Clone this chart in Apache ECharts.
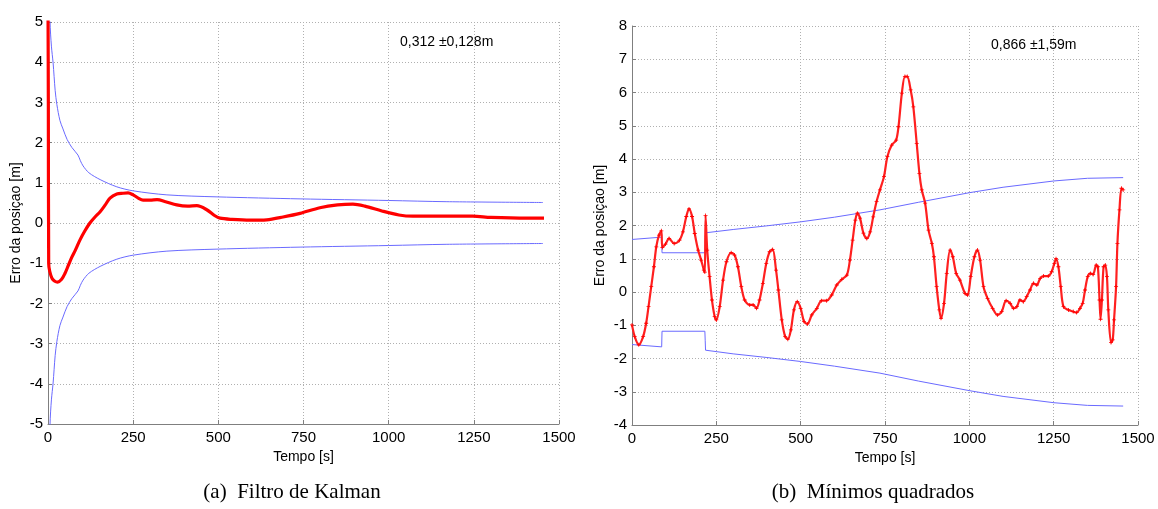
<!DOCTYPE html>
<html>
<head>
<meta charset="utf-8">
<script src="https://cdn.jsdelivr.net/npm/echarts@6/dist/echarts.min.js"></script>
<style>html,body{margin:0;padding:0;background:#fff}#c{width:1158px;height:509px}</style>
</head>
<body>
<div id="c"></div>
<script>
// ---- Left panel: Kalman filter ----
const kalTime = [0, 1, 2, 5, 12, 20, 28, 40, 50, 60, 70, 80, 94, 108, 123, 138, 153, 168, 182, 202, 220, 235, 250, 265, 279, 300, 320, 345, 378, 410, 437, 466, 490, 505, 540, 593, 642, 690, 740, 798, 850, 895, 930, 980, 1030, 1071, 1150, 1247, 1300, 1406, 1456];
const kalErr  = [5.5, 3, -1.0, -1.2, -1.38, -1.45, -1.47, -1.4, -1.25, -1.05, -0.85, -0.68, -0.42, -0.2, 0.0, 0.15, 0.28, 0.45, 0.62, 0.72, 0.74, 0.75, 0.7, 0.62, 0.57, 0.57, 0.58, 0.53, 0.45, 0.42, 0.43, 0.33, 0.18, 0.12, 0.09, 0.07, 0.08, 0.15, 0.24, 0.38, 0.45, 0.47, 0.42, 0.3, 0.2, 0.17, 0.17, 0.17, 0.14, 0.12, 0.12];
const kalSigTime = [3, 6, 10, 15, 21, 26, 35, 44, 56, 70, 88, 95, 103, 120, 153, 202, 250, 349, 496, 740, 1000, 1171, 1453];
const kalSigUp   = [7, 5.0, 4.4, 3.98, 3.3, 2.95, 2.55, 2.34, 2.08, 1.88, 1.69, 1.55, 1.42, 1.25, 1.08, 0.9, 0.8, 0.7, 0.65, 0.6, 0.56, 0.53, 0.51];
const kalSigLow  = [-7, -5.0, -4.4, -3.98, -3.3, -2.95, -2.55, -2.34, -2.08, -1.88, -1.69, -1.55, -1.42, -1.25, -1.08, -0.9, -0.8, -0.7, -0.65, -0.6, -0.56, -0.53, -0.51];

// ---- Right panel: least squares ----
const lsTime = [0, 8, 20, 33, 42, 49, 57, 65, 72, 80, 87, 90, 99, 110, 125, 141, 151, 161, 169, 178, 186, 196, 205, 213, 216, 218, 223, 230, 237, 245, 250, 260, 270, 280, 294, 304, 314, 324, 334, 349, 359, 369, 378, 388, 398, 408, 417, 427, 434, 444, 454, 462, 471, 480, 490, 500, 510, 520, 533, 548, 562, 577, 592, 607, 622, 637, 646, 654, 662, 668, 676, 686, 696, 706, 715, 725, 735, 747, 757, 770, 783, 790, 800, 809, 816, 826, 834, 844, 852, 859, 869, 879, 889, 895, 903, 911, 916, 925, 933, 943, 951, 961, 972, 987, 995, 1004, 1015, 1024, 1032, 1042, 1054, 1069, 1083, 1096, 1109, 1121, 1131, 1141, 1150, 1160, 1170, 1180, 1190, 1200, 1210, 1220, 1234, 1244, 1252, 1257, 1264, 1271, 1279, 1294, 1308, 1318, 1328, 1336, 1343, 1351, 1359, 1367, 1376, 1381, 1386, 1389, 1393, 1398, 1403, 1408, 1412, 1420, 1425, 1429, 1435, 1439, 1445, 1451, 1456];
const lsErr  = [-0.99, -1.34, -1.59, -1.34, -0.94, -0.44, 0.16, 0.76, 1.36, 1.71, 1.84, 1.34, 1.44, 1.61, 1.46, 1.56, 1.81, 2.27, 2.5, 2.27, 1.76, 1.26, 0.96, 0.66, 0.6, 2.3, 1.26, 0.46, -0.24, -0.74, -0.84, -0.44, 0.36, 0.91, 1.18, 1.11, 0.76, 0.16, -0.24, -0.39, -0.39, -0.49, -0.24, 0.26, 0.86, 1.21, 1.28, 0.66, 0.06, -0.84, -1.34, -1.42, -1.14, -0.54, -0.29, -0.49, -0.89, -0.96, -0.69, -0.49, -0.26, -0.26, -0.09, 0.21, 0.38, 0.51, 0.96, 1.56, 2.16, 2.37, 2.22, 1.77, 1.61, 1.81, 2.26, 2.72, 3.07, 3.47, 4.07, 4.42, 4.57, 4.97, 5.98, 6.48, 6.48, 6.08, 5.57, 4.47, 3.57, 3.07, 2.67, 1.86, 1.46, 1.06, 0.16, -0.54, -0.79, -0.34, 0.56, 1.26, 1.06, 0.56, 0.36, -0.04, -0.09, 0.46, 1.06, 1.26, 0.96, 0.16, -0.19, -0.49, -0.69, -0.59, -0.26, -0.34, -0.49, -0.44, -0.24, -0.29, -0.14, 0.06, 0.26, 0.21, 0.41, 0.48, 0.48, 0.61, 0.86, 1.0, 0.76, 0.16, -0.44, -0.54, -0.59, -0.62, -0.49, -0.34, 0.06, 0.46, 0.56, 0.53, 0.81, 0.76, -0.24, -0.82, -0.24, 0.76, 0.81, 0.46, -0.54, -1.52, -1.44, -0.84, 0.16, 1.46, 2.47, 3.12, 3.07];
const lsSigTime = [0, 88, 89, 216, 217, 218, 300, 400, 500, 600, 735, 850, 1002, 1100, 1251, 1350, 1456];
const lsSigUp   = [1.58, 1.65, 1.18, 1.18, 1.45, 1.78, 1.88, 1.99, 2.11, 2.25, 2.47, 2.7, 2.99, 3.15, 3.34, 3.42, 3.44];
const lsSigLow  = [-1.58, -1.65, -1.18, -1.18, -1.45, -1.75, -1.86, -1.97, -2.09, -2.23, -2.44, -2.68, -2.97, -3.14, -3.33, -3.41, -3.43];

const xTicks = [0, 250, 500, 750, 1000, 1250, 1500];
const annotLeft = '0,312 \u00b10,128m';
const annotRight = '0,866 \u00b11,59m';
const captionLeft = '(a)  Filtro de Kalman';
const captionRight = '(b)  M\u00ednimos quadrados';
const xName = 'Tempo [s]';
const yName = 'Erro da posi\u00e7ao [m]';

const zip = (a, b) => a.map((t, i) => [t, b[i]]);
const FONT = 'Liberation Sans, Arial, sans-serif';
const plusSym = 'path://M4,0h2v4h4v2h-4v4h-2v-4h-4v-2h4z';

function xAx(idx) {
  return {
    gridIndex: idx, type: 'value', min: xTicks[0], max: xTicks[xTicks.length - 1], interval: xTicks[1] - xTicks[0],
    name: xName, nameLocation: 'middle', nameGap: 22,
    nameTextStyle: { color: '#000', fontSize: 14, fontFamily: FONT },
    axisLine: { show: true, onZero: false, lineStyle: { color: '#7f7f7f', width: 1 } },
    axisTick: { show: true, inside: true, length: 4, lineStyle: { color: '#7f7f7f' } },
    axisLabel: { color: '#000', fontSize: 15, fontFamily: FONT, margin: 6, showMinLabel: true, showMaxLabel: true,
      formatter: v => String(v) },
    splitLine: { show: true, lineStyle: { color: '#b0b0b0', type: [1, 2], width: 1 } }
  };
}
function yAx(idx, min, max) {
  return {
    gridIndex: idx, type: 'value', min: min, max: max, interval: 1,
    name: yName, nameLocation: 'middle', nameGap: 25, nameRotate: 90,
    nameTextStyle: { color: '#000', fontSize: 14, fontFamily: FONT },
    axisLine: { show: true, onZero: false, lineStyle: { color: '#7f7f7f', width: 1 } },
    axisTick: { show: true, inside: true, length: 4, lineStyle: { color: '#7f7f7f' } },
    axisLabel: { color: '#000', fontSize: 15, fontFamily: FONT, margin: 5, showMinLabel: true, showMaxLabel: true,
      formatter: v => String(v) },
    splitLine: { show: true, lineStyle: { color: '#b0b0b0', type: [1, 2], width: 1 } }
  };
}

const chart = echarts.init(document.getElementById('c'), null, { renderer: 'canvas' });
chart.setOption({
  animation: false,
  backgroundColor: '#fff',
  grid: [
    { left: 48, right: 599, top: 22, bottom: 85, containLabel: false },
    { left: 632, right: 20, top: 26, bottom: 84, containLabel: false }
  ],
  xAxis: [xAx(0), xAx(1)],
  yAxis: [yAx(0, -5, 5), yAx(1, -4, 8)],
  series: [
    { type: 'line', xAxisIndex: 0, yAxisIndex: 0, data: zip(kalSigTime, kalSigUp), showSymbol: false, smooth: 0.3, clip: true,
      lineStyle: { color: '#6a6aff', width: 1 } },
    { type: 'line', xAxisIndex: 0, yAxisIndex: 0, data: zip(kalSigTime, kalSigLow), showSymbol: false, smooth: 0.3, clip: true,
      lineStyle: { color: '#6a6aff', width: 1 } },
    { type: 'line', xAxisIndex: 0, yAxisIndex: 0, data: zip(kalTime, kalErr), showSymbol: false, smooth: 0.3, clip: true,
      lineStyle: { color: '#ff0000', width: 3.2 } },
    { type: 'line', xAxisIndex: 1, yAxisIndex: 1, data: zip(lsSigTime, lsSigUp), showSymbol: false, clip: true,
      lineStyle: { color: '#6a6aff', width: 1 } },
    { type: 'line', xAxisIndex: 1, yAxisIndex: 1, data: zip(lsSigTime, lsSigLow), showSymbol: false, clip: true,
      lineStyle: { color: '#6a6aff', width: 1 } },
    { type: 'line', xAxisIndex: 1, yAxisIndex: 1, data: zip(lsTime, lsErr), smooth: 0.3, clip: true,
      symbol: plusSym, symbolSize: 4, showSymbol: true, showAllSymbol: true,
      itemStyle: { color: '#ff0000' },
      lineStyle: { color: '#ff2020', width: 2.2 } }
  ],
  graphic: [
    { type: 'text', left: 400, top: 35, style: { text: annotLeft, fill: '#000', font: '14px ' + FONT } },
    { type: 'text', left: 991, top: 38, style: { text: annotRight, fill: '#000', font: '14px ' + FONT } },
    { type: 'text', x: 292, y: 492, style: { text: captionLeft, fill: '#000', font: '21px Liberation Serif, DejaVu Serif, serif', align: 'center', verticalAlign: 'middle' } },
    { type: 'text', x: 873, y: 492, style: { text: captionRight, fill: '#000', font: '21px Liberation Serif, DejaVu Serif, serif', align: 'center', verticalAlign: 'middle' } }
  ]
});
</script>
</body>
</html>
